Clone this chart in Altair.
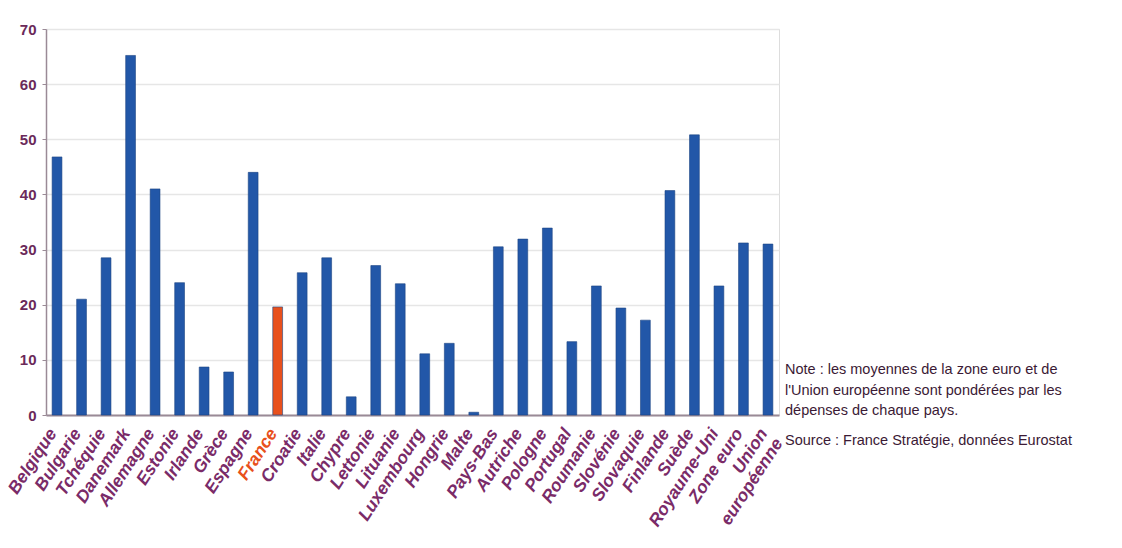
import altair as alt
import pandas as pd

countries = ["Belgique", "Bulgarie", "Tchéquie", "Danemark", "Allemagne", "Estonie",
             "Irlande", "Grèce", "Espagne", "France", "Croatie", "Italie", "Chypre",
             "Lettonie", "Lituanie", "Luxembourg", "Hongrie", "Malte", "Pays-Bas",
             "Autriche", "Pologne", "Portugal", "Roumanie", "Slovénie", "Slovaquie",
             "Finlande", "Suède", "Royaume-Uni", "Zone euro", "Union européenne"]
values = [46.8, 21.0, 28.5, 65.2, 41.0, 24.0, 8.7, 7.8, 44.0, 19.6, 25.8, 28.5, 3.3,
          27.1, 23.8, 11.1, 13.0, 0.5, 30.5, 31.9, 33.9, 13.3, 23.4, 19.4, 17.2,
          40.7, 50.8, 23.4, 31.2, 31.0]
highlight = ["France"]

note_lines = ["Note : les moyennes de la zone euro et de",
              "l'Union européenne sont pondérées par les",
              "dépenses de chaque pays."]
source_line = "Source : France Stratégie, données Eurostat"

df = pd.DataFrame({"pays": countries, "valeur": values})
df["hl"] = df["pays"].isin(highlight)

BLUE = "#2257a8"
ORANGE = "#e8501c"
PURPLE = "#7a2b68"

bars = alt.Chart(df).mark_bar(stroke="#1d4583", strokeWidth=0.6).encode(
    x=alt.X("pays:N", sort=countries, title=None,
            scale=alt.Scale(paddingInner=0.6, paddingOuter=0.25),
            axis=alt.Axis(labelAngle=-57, labelAlign="right", labelBaseline="middle",
                          labelFont="Liberation Sans", labelFontSize=17.5,
                          labelFontWeight="bold", labelFontStyle="italic",
                          labelColor={"expr": f"datum.value == 'France' ? '{ORANGE}' : '{PURPLE}'"},
                          labelExpr="datum.value == 'Union européenne' ? ['Union', 'européenne'] : datum.value",
                          labelLineHeight=18, labelOffset=-4,
                          labelPadding=15, labelOverlap=False, labelBound=False,
                          ticks=False, domainColor="#9a8a96", domainWidth=2)),
    y=alt.Y("valeur:Q", title=None,
            scale=alt.Scale(domain=[0, 70], nice=False),
            axis=alt.Axis(values=[0, 10, 20, 30, 40, 50, 60, 70],
                          labelFont="Liberation Sans", labelFontSize=15,
                          labelFontWeight="bold", labelColor="#6b2a5a",
                          labelPadding=6, tickSize=4, tickColor="#9a8a96",
                          domainColor="#9a8a96", domainWidth=1.5,
                          gridColor="#e6e6e6", gridWidth=1.5)),
    color=alt.Color("hl:N", scale=alt.Scale(domain=[False, True], range=[BLUE, ORANGE]),
                    legend=None),
)

note = alt.Chart(pd.DataFrame({"t": [note_lines]})).mark_text(
    align="left", baseline="middle", font="Liberation Sans",
    fontSize=14.5, color="#3b1a35", lineHeight=20.5
).encode(
    x=alt.value(739),
    y=alt.value(341),
    text="t",
)

source = alt.Chart(pd.DataFrame({"t": [source_line]})).mark_text(
    align="left", baseline="middle", font="Liberation Sans",
    fontSize=14.5, color="#3b1a35"
).encode(
    x=alt.value(739),
    y=alt.value(412),
    text="t:N",
)

chart = alt.layer(bars, note, source).properties(
    width=733, height=386,
    autosize=alt.AutoSizeParams(type="none"),
    padding={"left": 46, "top": 29, "right": 343, "bottom": 133},
).configure_view(stroke=None).configure(background="white")

chart.save("out.html", embed_options={"renderer": "svg", "actions": False})
